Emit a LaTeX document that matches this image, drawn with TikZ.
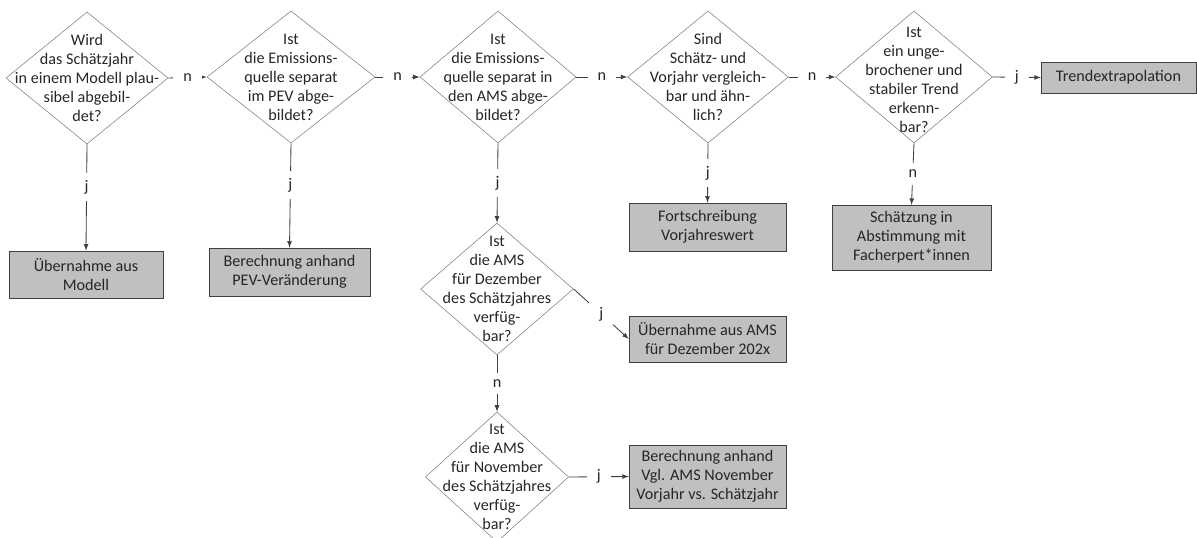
\documentclass[tikz,border=0pt]{standalone}
\usepackage{fontspec}
\setmainfont{Carlito}
\usetikzlibrary{shapes.geometric}
\definecolor{diagray}{RGB}{128,128,128}
\definecolor{boxgray}{RGB}{192,192,192}
\definecolor{framegray}{RGB}{64,64,64}
\tikzset{
	question/.style={diamond, draw=diagray, inner sep=0pt, minimum height=3.3cm},
	qtext/.style={align=center, inner sep=0pt},
	result/.style={rectangle, draw=framegray, fill=boxgray, align=center, inner sep=0pt},
	flow/.style={->, >=latex, draw=framegray, semithick},
	answer/.style={fill=white, inner xsep=7pt, inner ysep=5pt}
}
\begin{document}
\begin{tikzpicture}[x=0.025cm, y=-0.025cm, font=\fontsize{11.5}{13.5}\selectfont, text=black!85]
		\useasboundingbox (0,0) rectangle (1197,538);
		\node[question, minimum width=4.05cm] (d1) at (87,78) {};
		\node[qtext] (t1) at (d1) {Wird\\das Schätzjahr\\in einem Modell plau-\\sibel abgebil-\\det?};
		\node[question, minimum width=4.2cm] (d2) at (291,77) {};
		\node[qtext] (t2) at (d2) {Ist\\die Emissions-\\quelle separat\\im PEV abge-\\bildet?};
		\node[question, minimum width=3.9cm] (d3) at (498,77) {};
		\node[qtext] (t3) at (d3) {Ist\\die Emissions-\\quelle separat in\\den AMS abge-\\bildet?};
		\node[question, minimum width=4.02cm] (d4) at (708,77) {};
		\node[qtext] (t4) at (d4) {Sind\\Schätz- und\\Vorjahr vergleich-\\bar und ähn-\\lich?};
		\node[question, minimum width=3.92cm] (d5) at (914,77) {};
		\node[qtext] (t5) at (914,80) {Ist\\ein unge-\\brochener und\\stabiler Trend\\erkenn-\\bar?};
		\node[question, minimum width=3.82cm] (d6) at (497,289) {};
		\node[qtext] (t6) at (d6) {Ist\\die AMS\\für Dezember\\des Schätzjahres\\verfüg-\\bar?};
		\node[question, minimum width=3.58cm, minimum height=3.25cm] (d7) at (497,477) {};
		\node[qtext] (t7) at (d7) {Ist\\die AMS\\für November\\des Schätzjahres\\verfüg-\\bar?};
		\node[result, minimum width=3.85cm, minimum height=1.18cm] (b1) at (86,274.5) {Übernahme aus\\Modell};
		\node[result, minimum width=4.02cm, minimum height=1.2cm] (b2) at (289.5,272) {Berechnung anhand\\PEV-Veränderung};
		\node[result, minimum width=3.92cm, minimum height=1.2cm] (b3) at (707.5,227) {Fortschreibung\\Vorjahreswert};
		\node[result, minimum width=3.92cm, minimum height=1.15cm] (b4) at (707.5,339) {Übernahme aus AMS\\für Dezember 202x};
		\node[result, minimum width=3.97cm, minimum height=1.62cm] (b5) at (911.5,237.5) {Schätzung in\\Abstimmung mit\\Facherpert*innen};
		\node[result, minimum width=3.92cm, minimum height=1.58cm] (b6) at (707.5,476.5) {Berechnung anhand\\Vgl. AMS November\\Vorjahr vs. Schätzjahr};
		\node[result, minimum width=3.87cm, minimum height=0.78cm] (b7) at (1118.5,77.5) {Trendextrapolation};
		\draw[flow] (d1.east) -- node[answer] (a1) {n} (d2.west);
		\draw[flow] (d2.east) -- node[answer] (a2) {n} (d3.west);
		\draw[flow] (d3.east) -- node[answer] (a3) {n} (d4.west);
		\draw[flow] (d4.east) -- node[answer] (a4) {n} (d5.west);
		\draw[flow] (d5.east) -- node[answer] (a5) {j} (b7.west);
		\draw[flow] (d1.south) -- node[answer, pos=0.4] (a6) {j} (b1.north);
		\draw[flow] (d2.south) -- node[answer, pos=0.4] (a7) {j} (b2.north);
		\draw[flow] (d3.south) -- node[answer] (a8) {j} (d6.north);
		\draw[flow] (d4.south) -- node[answer] (a9) {j} (b3.north);
		\draw[flow] (d5.south) -- node[answer] (a10) {n} (b5.north);
		\draw[flow] (d6.east) -- node[answer] (a11) {j} (b4.west);
		\draw[flow] (d6.south) -- node[answer] (a12) {n} (d7.north);
		\draw[flow] (d7.east) -- node[answer] (a13) {j} (b6.west);
	\end{tikzpicture}
\end{document}
